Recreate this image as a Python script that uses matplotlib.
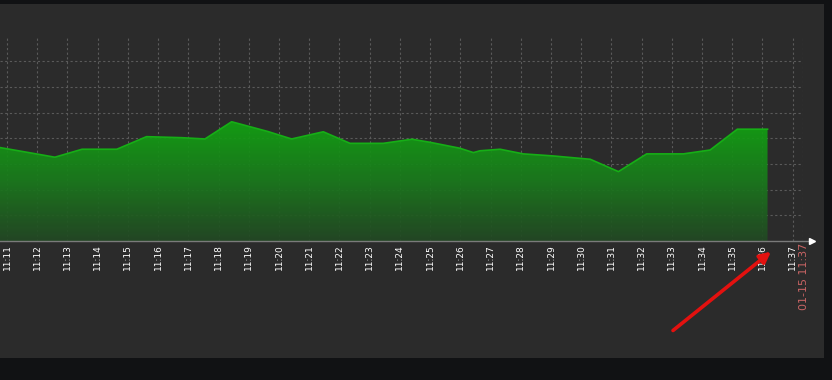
import matplotlib
matplotlib.use("Agg")
import matplotlib.pyplot as plt
import numpy as np
from matplotlib.patches import Rectangle, Polygon, FancyArrowPatch
from matplotlib.colors import LinearSegmentedColormap

# ---------------- data ----------------
times = ["11:10:36", "11:11:52", "11:12:35", "11:13:29", "11:14:38", "11:15:37",
         "11:16:47", "11:17:33", "11:18:26", "11:19:38", "11:20:25", "11:21:28",
         "11:22:21", "11:23:27", "11:24:24", "11:25:00", "11:25:59", "11:26:26",
         "11:26:39", "11:27:19", "11:28:05", "11:29:04", "11:30:18", "11:31:14",
         "11:32:10", "11:33:23", "11:34:16", "11:35:10", "11:36:10"]
values = [3.67, 3.41, 3.26, 3.57, 3.57, 4.06,
          4.02, 3.97, 4.64, 4.26, 3.97, 4.25,
          3.80, 3.80, 3.96, 3.84, 3.61, 3.44,
          3.51, 3.57, 3.39, 3.31, 3.18, 2.70,
          3.39, 3.39, 3.54, 4.35, 4.35]
tick_labels = ["11:11", "11:12", "11:13", "11:14", "11:15", "11:16", "11:17",
               "11:18", "11:19", "11:20", "11:21", "11:22", "11:23", "11:24",
               "11:25", "11:26", "11:27", "11:28", "11:29", "11:30", "11:31",
               "11:32", "11:33", "11:34", "11:35", "11:36", "11:37"]
stamp_label = "01-15 11:37"


def to_min(s):
    p = [int(v) for v in s.split(":")]
    sec = p[0] * 3600 + p[1] * 60 + (p[2] if len(p) > 2 else 0)
    return (sec - (11 * 3600 + 11 * 60)) / 60.0


x = np.array([to_min(t) for t in times])
y = np.array(values)
tick_pos = np.array([to_min(t) for t in tick_labels])

# ---------------- figure ----------------
W, H = 832, 380
fig = plt.figure(figsize=(W / 100, H / 100), dpi=100, facecolor="#111214")

# panel background
fig.patches.append(Rectangle((0, (H - 357.5) / H), 824 / W, (357.5 - 4) / H,
                             transform=fig.transFigure, facecolor="#2b2b2b",
                             edgecolor="none", zorder=-5))

px_per_min = 30.22
x0_px = 7.0
left_px, right_px = 0.0, 803.3
top_px, bot_px = 38.0, 241.0
px_per_unit = 25.7

ax = fig.add_axes([left_px / W, (H - bot_px) / H, (right_px - left_px) / W,
                   (bot_px - top_px) / H])
ax.set_facecolor("none")
ax.set_zorder(1)
xmin = (left_px - x0_px) / px_per_min
xmax = (right_px - x0_px) / px_per_min
ymax = (bot_px - top_px) / px_per_unit

for s in ax.spines.values():
    s.set_visible(False)

grid_kw = dict(color="#5a5a5a", lw=0.8, dashes=(2, 2.2), zorder=1)
for yy in range(1, 8):
    ax.axhline(yy, **grid_kw)
for xx in tick_pos:
    ax.axvline(xx, **grid_kw)
ax.axvline(xmax - 0.01, **grid_kw)

# gradient fill
cmap = LinearSegmentedColormap.from_list("g", ["#234824", "#1a7a1c", "#12a412"])
grad = np.linspace(0, 1, 256).reshape(-1, 1)
top_val = y.max()
im = ax.imshow(grad, extent=[xmin, xmax, 0, top_val], origin="lower",
               aspect="auto", cmap=cmap, zorder=2, interpolation="bilinear",
               alpha=0.93)
poly_x = np.concatenate([[x[0]], x, [x[-1]]])
poly_y = np.concatenate([[0], y, [0]])
poly = Polygon(np.column_stack([poly_x, poly_y]), closed=True,
               facecolor="none", edgecolor="none", transform=ax.transData)
ax.add_patch(poly)
im.set_clip_path(poly)
ax.plot(x, y, color="#16ae16", lw=1.2, zorder=2.5)
ax.set_ylim(0, ymax)
ax.set_xlim(xmin, xmax)

ax.set_xticks(tick_pos)
ax.set_xticklabels(tick_labels, rotation=90, color="white", fontsize=6.5,
                   family="DejaVu Sans", va="top", ha="center")
ax.tick_params(axis="x", length=0, pad=2.5)
ax.set_yticks([])

# axis line with arrow
fig.add_artist(plt.Line2D([0, 811 / W], [(H - 241) / H] * 2, color="#7a7a7a",
                          lw=1.0, transform=fig.transFigure, zorder=5))
fig.add_artist(plt.Line2D([812 / W], [(H - 241) / H], marker=">", color="white",
                          markersize=4.5, lw=0, transform=fig.transFigure,
                          zorder=5))

# red timestamp
fig.text(804.3 / W, (H - 243) / H, stamp_label, rotation=90, color="#c86464",
         fontsize=8, ha="center", va="top", family="DejaVu Sans", zorder=5)

# red arrow annotation
fig.add_artist(FancyArrowPatch(
    (673 / W, (H - 330.5) / H), (771 / W, (H - 251.7) / H),
    transform=fig.transFigure, arrowstyle="-|>", mutation_scale=16,
    color="#e3110f", lw=2.6, shrinkA=0, shrinkB=0, zorder=6))

fig.savefig("out.png", dpi=100, facecolor=fig.get_facecolor())
